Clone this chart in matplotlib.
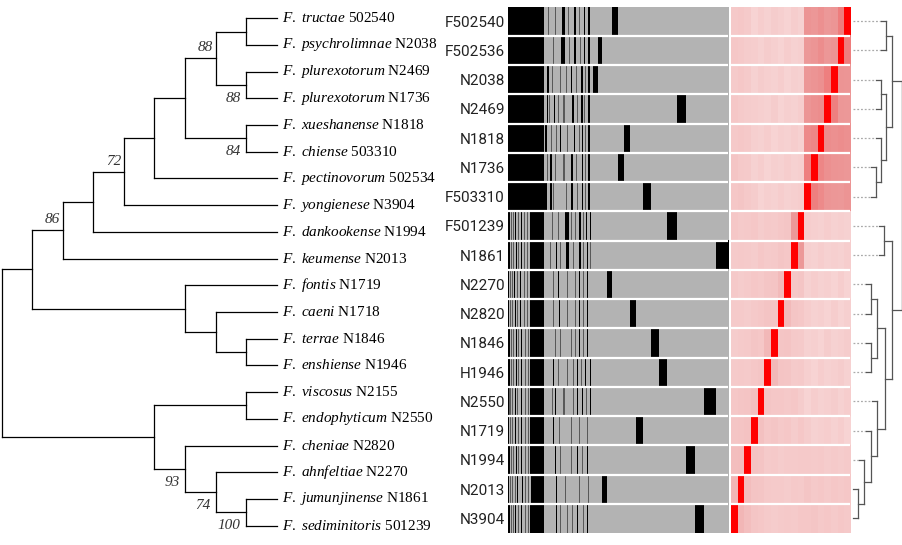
import numpy as np
import matplotlib
matplotlib.use("Agg")
import matplotlib.pyplot as plt
from matplotlib.colors import LinearSegmentedColormap

W, H = 902, 545

plt.rcParams['mathtext.fontset'] = 'custom'
plt.rcParams['mathtext.rm'] = 'Liberation Serif'
plt.rcParams['mathtext.it'] = 'Liberation Serif:italic'

# ---- phylogenetic tree (left) ----
species = ['tructae', 'psychrolimnae', 'plurexotorum', 'plurexotorum', 'xueshanense',
           'chiense', 'pectinovorum', 'yongienese', 'dankookense', 'keumense',
           'fontis', 'caeni', 'terrae', 'enshiense', 'viscosus', 'endophyticum',
           'cheniae', 'ahnfeltiae', 'jumunjinense', 'sediminitoris']
strains = ['502540', 'N2038', 'N2469', 'N1736', 'N1818', '503310', '502534', 'N3904',
           'N1994', 'N2013', 'N1719', 'N1718', 'N1846', 'N1946', 'N2155', 'N2550',
           'N2820', 'N2270', 'N1861', '501239']

# topology, leaves are indices into species/strains
tree = (((((((((0, 1), (2, 3)), (4, 5)), 6), 7), 8), 9), (10, (11, (12, 13)))),
        ((14, 15), (16, (17, (18, 19)))))

# bootstrap values keyed by (first leaf, last leaf) of the clade
supports = {(0, 3): 88, (2, 3): 88, (4, 5): 84, (0, 7): 72, (0, 9): 86,
            (16, 19): 93, (17, 19): 74, (18, 19): 100}
support_above = {(0, 3), (0, 7), (0, 9)}

# ---- gene presence / absence panel ----
genomes = ['F502540', 'F502536', 'N2038', 'N2469', 'N1818', 'N1736', 'F503310',
           'F501239', 'N1861', 'N2270', 'N2820', 'N1846', 'H1946', 'N2550',
           'N1719', 'N1994', 'N2013', 'N3904']

n_shared = 84  # core + accessory gene slots before the strain specific genes
present = [
    [(0, 36), (54, 2), (65, 2), (75, 1), (79, 2)],
    [(0, 36), (53, 3), (65, 2), (75, 1), (79, 2)],
    [(0, 36), (39, 2), (62, 1), (72, 2), (79, 2)],
    [(0, 36), (39, 1), (46, 1), (63, 2), (72, 2), (79, 2)],
    [(0, 36), (37, 2), (52, 1), (65, 1), (73, 1), (79, 2)],
    [(0, 36), (42, 2), (62, 2), (73, 1), (79, 2)],
    [(0, 39), (42, 2), (62, 2), (73, 1), (79, 2)],
    [(0, 2), (7, 1), (13, 1), (22, 14), (56, 4), (70, 2), (77, 1), (81, 1)],
    [(0, 2), (8, 1), (13, 1), (22, 14), (48, 1), (57, 3), (70, 2), (78, 1)],
    [(0, 1), (6, 1), (12, 1), (22, 14), (50, 1), (70, 1), (78, 1)],
    [(0, 1), (7, 1), (12, 1), (22, 14), (51, 1), (70, 1), (78, 1)],
    [(0, 2), (8, 1), (13, 1), (22, 14), (70, 1), (78, 1)],
    [(0, 2), (8, 1), (13, 1), (22, 14), (45, 1), (68, 1), (76, 1), (81, 1)],
    [(0, 1), (7, 1), (13, 1), (22, 14), (47, 1), (68, 1), (73, 1), (81, 1)],
    [(0, 1), (7, 1), (13, 1), (22, 14), (45, 1)],
    [(0, 2), (8, 1), (13, 1), (22, 14), (47, 1), (68, 1), (78, 1)],
    [(0, 1), (9, 1), (14, 1), (23, 13), (48, 1)],
    [(0, 2), (7, 1), (13, 1), (22, 14), (48, 1), (68, 1), (78, 1)],
]
# genes only partly shared (drawn dark grey)
partial = [
    [8, 11, 15, 40, 47, 59, 70],
    [8, 11, 15, 45, 60, 71],
    [8, 11, 15, 44, 52, 57, 67, 76],
    [8, 11, 15, 41, 50, 55, 68, 75],
    [8, 11, 15, 43, 48, 58, 70, 76],
    [8, 11, 15, 39, 47, 55, 67, 76],
    [8, 11, 15, 45, 57, 68, 76],
    [3, 5, 10, 16, 19, 44, 50, 62, 66, 74],
    [3, 5, 10, 16, 19, 42, 52, 64, 74, 81],
    [2, 4, 9, 16, 19, 45, 58, 66, 74],
    [2, 4, 9, 16, 19, 45, 58, 66, 74],
    [3, 5, 10, 17, 20, 47, 52, 62, 66, 74],
    [3, 5, 10, 17, 20, 50, 58, 64, 72],
    [1, 2, 4, 9, 17, 20, 44, 55, 64, 77],
    [2, 4, 10, 17, 20, 51, 62, 70, 78],
    [3, 5, 10, 17, 20, 52, 62, 73],
    [2, 4, 7, 17, 20, 56, 70, 79],
    [3, 5, 10, 17, 20, 52, 58, 63, 74],
]
unique_order = ['N2038', 'F502536', 'N2013', 'N2270', 'F502540', 'N1736', 'N1818',
                'N2820', 'N1719', 'F503310', 'N1846', 'H1946', 'F501239', 'N2469',
                'N1994', 'N3904', 'N2550', 'N1861']
unique_genes = [5, 4, 5, 5, 6, 6, 6, 6, 7, 8, 8, 8, 9, 9, 9, 9, 12, 13]

# ---- pairwise similarity (genome order) ----
ani = np.array([
    [100, 62, 54, 52, 56, 53, 55, 18, 20, 17, 19, 21, 18, 20, 17, 22, 24, 23],
    [62, 100, 55, 53, 57, 54, 52, 19, 18, 20, 17, 19, 21, 18, 20, 21, 23, 24],
    [54, 55, 100, 61, 56, 55, 53, 18, 19, 17, 20, 18, 19, 21, 18, 22, 24, 22],
    [52, 53, 61, 100, 57, 56, 54, 20, 18, 19, 17, 21, 18, 19, 20, 21, 22, 24],
    [56, 57, 56, 57, 100, 59, 58, 18, 20, 18, 19, 17, 20, 18, 19, 23, 24, 23],
    [53, 54, 55, 56, 59, 100, 61, 19, 18, 20, 18, 19, 17, 20, 18, 22, 23, 25],
    [55, 52, 53, 54, 58, 61, 100, 20, 19, 18, 20, 18, 19, 17, 21, 23, 25, 24],
    [18, 19, 18, 20, 18, 19, 20, 100, 52, 25, 24, 22, 23, 21, 24, 23, 22, 24],
    [20, 18, 19, 18, 20, 18, 19, 52, 100, 24, 25, 23, 22, 24, 21, 22, 23, 22],
    [17, 20, 17, 19, 18, 20, 18, 25, 24, 100, 32, 26, 25, 23, 24, 22, 21, 23],
    [19, 17, 20, 17, 19, 18, 20, 24, 25, 32, 100, 25, 26, 24, 23, 21, 22, 22],
    [21, 19, 18, 21, 17, 19, 18, 22, 23, 26, 25, 100, 33, 24, 25, 23, 22, 21],
    [18, 21, 19, 18, 20, 17, 19, 23, 22, 25, 26, 33, 100, 25, 24, 22, 23, 22],
    [20, 18, 21, 19, 18, 20, 17, 21, 24, 23, 24, 24, 25, 100, 28, 26, 25, 24],
    [17, 20, 18, 20, 19, 18, 21, 24, 21, 24, 23, 25, 24, 28, 100, 27, 26, 25],
    [22, 21, 22, 21, 23, 22, 23, 23, 22, 22, 21, 23, 22, 26, 27, 100, 30, 29],
    [24, 23, 24, 22, 24, 23, 25, 22, 23, 21, 22, 22, 23, 25, 26, 30, 100, 34],
    [23, 24, 22, 24, 23, 25, 24, 24, 22, 23, 22, 21, 22, 24, 25, 29, 34, 100],
])

# clustering of the genomes (child, child, height); nodes numbered from 18
links = [(0, 1, 0.34), (2, 3, 0.29), (5, 6, 0.24), (4, 20, 0.29), (19, 21, 0.34),
         (18, 22, 0.40), (7, 8, 0.32), (9, 10, 0.19), (11, 12, 0.19), (25, 26, 0.25),
         (16, 17, 0.06), (15, 28, 0.12), (14, 29, 0.19), (13, 30, 0.25),
         (27, 31, 0.33), (24, 32, 0.40), (23, 33, 0.50)]


def px_rect(x0, y0, x1, y1):
    return [x0 / W, 1 - y1 / H, (x1 - x0) / W, (y1 - y0) / H]


fig = plt.figure(figsize=(W / 100, H / 100), dpi=100)

# tree
ax_t = fig.add_axes(px_rect(1.7, 4.95, 276.7, 538.95))
ax_t.set_xlim(-9, 0)
ax_t.set_ylim(len(species) - 0.5, -0.5)
ax_t.axis('off')


def draw_clade(ax, node):
    if isinstance(node, int):
        return 0, node, node, node
    parts = [draw_clade(ax, ch) for ch in node]
    h = 1 + max(p[0] for p in parts)
    ys = [p[1] for p in parts]
    y = sum(ys) / len(ys)
    ax.plot([-h, -h], [min(ys), max(ys)], color='black', lw=0.9, clip_on=False)
    for ph, py, _, _ in parts:
        ax.plot([-h, -ph], [py, py], color='black', lw=0.9, clip_on=False)
    key = (parts[0][2], parts[-1][3])
    if key in supports:
        off = (-2.2, 7.5) if key in support_above else (-4, -9.5)
        ax.annotate(str(supports[key]), xy=(-h, y), xytext=off, textcoords='offset points',
                    ha='right', va='center', fontsize=11, color='#333333',
                    family='Liberation Serif', style='italic')
    return h, y, key[0], key[1]


draw_clade(ax_t, tree)
for i, (sp, st) in enumerate(zip(species, strains)):
    ax_t.annotate(r'$\mathit{F.\ ' + sp + '}$ ' + st, xy=(0, i), xytext=(3.6, 0),
                  textcoords='offset points', va='center', ha='left', fontsize=11,
                  family='Liberation Serif', color='black')

# gene panel
n_genes = n_shared + sum(unique_genes)
pa = np.zeros((len(genomes), n_genes))
for r in range(len(genomes)):
    for g in partial[r]:
        pa[r, g] = 0.5
    for s, w in present[r]:
        pa[r, s:s + w] = 1
start = n_shared
for name, cnt in zip(unique_order, unique_genes):
    pa[genomes.index(name), start:start + cnt] = 1
    start += cnt

ax_g = fig.add_axes(px_rect(507.5, 6.5, 728, 533))
gray_cmap = LinearSegmentedColormap.from_list('pa', ['#b3b3b3', '#000000'])
ax_g.imshow(pa, aspect='auto', cmap=gray_cmap, vmin=0, vmax=1, interpolation='nearest')
ax_g.hlines(np.arange(len(genomes) - 1) + 0.5, -0.5, n_genes - 0.5, color='white', lw=1.6)
ax_g.set_xticks([])
ax_g.set_yticks(range(len(genomes)))
ax_g.set_yticklabels(genomes, family='Roboto', fontsize=11, color='#222222')
ax_g.tick_params(axis='y', length=0, pad=1.8)
for sp in ax_g.spines.values():
    sp.set_visible(False)

# similarity heatmap, columns in reversed order
ax_h = fig.add_axes(px_rect(730.5, 6.5, 850, 533))
pink_cmap = LinearSegmentedColormap.from_list(
    'ani', [(0, '#fcefef'), (0.55, '#ec9494'), (1, '#ff0000')])
ax_h.imshow(ani[:, ::-1] / 100, aspect='auto', cmap=pink_cmap, vmin=0, vmax=1,
            interpolation='nearest')
ax_h.hlines(np.arange(len(genomes) - 1) + 0.5, -0.5, len(genomes) - 0.5, color='white', lw=1.6)
ax_h.axis('off')

# dendrogram on the right
ax_d = fig.add_axes(px_rect(852, 6.5, 902, 533))
ax_d.set_xlim(0, 0.5)
ax_d.set_ylim(len(genomes) - 0.5, -0.5)
ax_d.axis('off')
pos = {i: (0.0, float(i)) for i in range(len(genomes))}
for k, (a, b, h) in enumerate(links):
    node = len(genomes) + k
    col = 'black' if k == len(links) - 1 else '#555555'
    ax_d.plot([h, h], [pos[a][1], pos[b][1]], color=col, lw=0.9, clip_on=False)
    for c in (a, b):
        cx, cy = pos[c]
        if c < len(genomes):
            stub = max(0.01, h - 0.05)
            if stub > 0.01:
                ax_d.plot([0.01, stub], [cy, cy], color='#aaaaaa', lw=0.9, ls=(0, (1.5, 1.5)))
            ax_d.plot([stub, h], [cy, cy], color='#555555', lw=0.9)
        else:
            ax_d.plot([cx, h], [cy, cy], color='#555555', lw=0.9)
    pos[node] = (h, (pos[a][1] + pos[b][1]) / 2)

fig.savefig('out.png', dpi=100)
